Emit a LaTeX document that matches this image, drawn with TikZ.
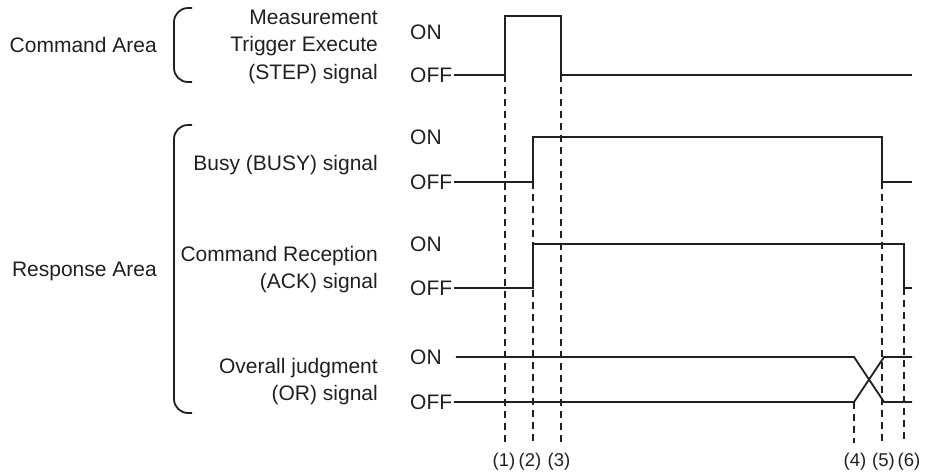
\documentclass[tikz,border=0pt]{standalone}
\usepackage{fontspec}
\setmainfont{Liberation Sans}
\usetikzlibrary{positioning}
\definecolor{ink}{HTML}{231F20}
\tikzset{
  lab/.style={font=\fontsize{21}{27.5}\selectfont, text=ink, inner sep=0pt},
  sname/.style={lab, anchor=east, align=right},
  lvl/.style={lab, anchor=west, inner xsep=1.5pt},
  num/.style={lab, font=\fontsize{18.5}{22}\selectfont},
  sig/.style={draw=ink, line width=1.8pt},
  guide/.style={draw=ink, line width=1.1pt, dash pattern=on 7pt off 5pt},
  brace/.style={draw=ink, line width=1.8pt, rounded corners=14pt},
}
\begin{document}
\begin{tikzpicture}[x=1pt, y=-1pt]
  \useasboundingbox (0,0) rectangle (945,475);
  % time marks
  \coordinate (t1) at (505,0); \coordinate (t2) at (533,0); \coordinate (t3) at (561,0);
  \coordinate (t4) at (854,0); \coordinate (t5) at (882,0); \coordinate (t6) at (904,0);
  \coordinate (tend) at (912,0); \coordinate (bot) at (0,443); \coordinate (stephi) at (0,16);

  % areas
  \node[lab, anchor=east] (cmdarea) at (157,45) {Command Area};
  \node[lab, anchor=east] (resarea) at (157,271) {Response Area};
  \draw[brace] (192,8) -| (174,45) |- (192,82);
  \draw[brace] (192,125) -| (174,270) |- (192,413);

  % signal names
  \node[sname] (stepname) at (378,46.5) {Measurement\\Trigger Execute\\(STEP) signal};
  \node[sname] (busyname) at (378,165) {Busy (BUSY) signal};
  \node[sname] (ackname) at (378,269.5) {Command Reception\\(ACK) signal};
  \node[sname] (orname) at (378,381.5) {Overall judgment\\(OR) signal};

  % levels
  \node[lvl] (stepon) at (408.5,32) {ON};   \node[lvl] (stepoff) at (408.5,75) {OFF};
  \node[lvl] (busyon) at (408.5,137) {ON};  \node[lvl] (busyoff) at (408.5,182) {OFF};
  \node[lvl] (ackon) at (408.5,244) {ON};   \node[lvl] (ackoff) at (408.5,288) {OFF};
  \node[lvl] (oron) at (408.5,357) {ON};    \node[lvl] (oroff) at (408.5,402) {OFF};

  % waveforms
  \draw[sig] (stepoff.east) -| (t1 |- stephi) -| (t3 |- stepoff.east) -- (tend |- stepoff.east);
  \draw[sig] (busyoff.east) -| (t2 |- busyon.east) -| (t5 |- busyoff.east) -- (tend |- busyoff.east);
  \draw[sig] (ackoff.east) -| (t2 |- ackon.east) -| (t6 |- ackoff.east) -- (tend |- ackoff.east);
  \draw[sig] ([xshift=2pt]oron.east -| oroff.east) -- (t4 |- oron.east) -- ([xshift=2pt]t5 |- oroff.east) -- (tend |- oroff.east);
  \draw[sig] (oroff.east) -- (t4 |- oroff.east) -- ([xshift=2pt]t5 |- oron.east) -- (tend |- oron.east);

  % timing points
  \foreach \i/\lv/\dx in {1/stepoff/-1, 2/busyoff/-3, 3/stepoff/-2, 4/oroff/1, 5/busyoff/1.5, 6/ackoff/5}
    \draw[guide] (t\i |- \lv.east) -- (t\i |- bot) node[num, below=10pt, xshift=\dx pt] (n\i) {(\i)};
\end{tikzpicture}
\end{document}
